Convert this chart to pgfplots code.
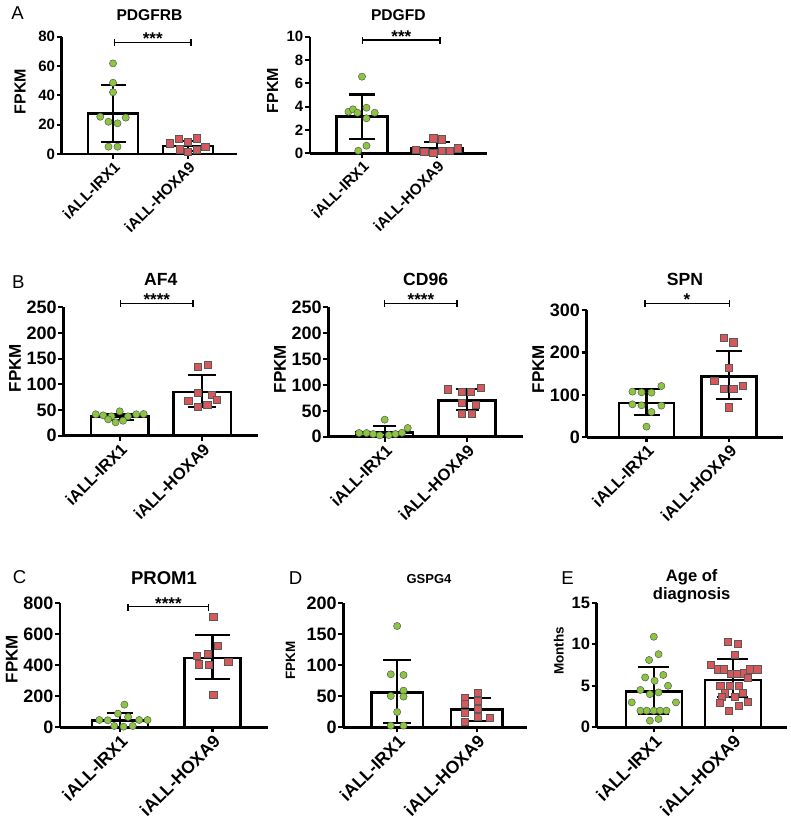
\documentclass[border=0pt]{standalone}
\usepackage{fontspec}
\setmainfont{Liberation Sans}
\usepackage{pgfplots}
\pgfplotsset{compat=1.18}
\definecolor{gpgreen}{RGB}{140,198,63}
\definecolor{gpred}{RGB}{214,88,90}
\newcommand\fs[1]{\fontsize{#1bp}{#1bp}\selectfont\bfseries}
\newcommand\sig[6]{%
 \draw[line width=1.4bp] (axis cs:#1,#4) -- (axis cs:#2,#4);
 \draw[line width=1.4bp] ([yshift=3bp]axis cs:#1,#4) -- ([yshift=-4bp]axis cs:#1,#4);
 \draw[line width=1.4bp] ([yshift=3bp]axis cs:#2,#4) -- ([yshift=-4bp]axis cs:#2,#4);
 \node[font=\fs{#6}, anchor=base, inner sep=0pt] at ([yshift=-2.4bp]axis cs:#3,#4) {#5};}
\pgfplotsset{
  gp/.style={scale only axis, ymin=0, clip=false,
    axis x line*=bottom, axis y line*=left,
    axis line style={line width=2.5bp,-},
    xtick={0,1}, xticklabels={iALL-IRX1,iALL-HOXA9},
    tick align=outside, major tick length=5bp,
    tick style={line width=2.2bp,black},
    /pgf/number format/assume math mode=true,
    x tick label style={rotate=45, anchor=north east, inner sep=1bp},
    y tick label style={inner sep=1.5bp},
    ylabel style={anchor=center},
    title style={anchor=base, inner sep=0pt},
    minor tick num=0},
  gpbar/.style={ybar, fill=white, draw=black, line width=2.5bp, bar width=#1},
  gperr/.style={draw=none, forget plot, error bars/.cd, y dir=both, y explicit,
     error bar style={draw=black, line width=2.2bp},
     error mark options={rotate=90, draw=black, line width=2.2bp, mark size=#1}},
  gpc/.style={only marks, mark=*, mark size=3.6bp, mark options={fill=gpgreen, draw=black!65, line width=0.5bp}},
  gps/.style={only marks, mark=square*, mark size=3.6bp, mark options={fill=gpred, draw=black!65, line width=0.5bp}},
}
\begin{document}
\begin{tikzpicture}
\useasboundingbox (0,0) rectangle (791bp,819bp);
% panel letters
\node[font=\fontsize{18.6bp}{19bp}\selectfont] at (17.5bp,805.7bp) {A};
\node[font=\fontsize{18.6bp}{19bp}\selectfont] at (18.3bp,537.3bp) {B};
\node[font=\fontsize{18.6bp}{19bp}\selectfont] at (19.7bp,242.3bp) {C};
\node[font=\fontsize{18.6bp}{19bp}\selectfont] at (295.7bp,240.7bp) {D};
\node[font=\fontsize{18.6bp}{19bp}\selectfont] at (567.5bp,240.7bp) {E};

% ---------- A: PDGFRB
\begin{axis}[gp, at={(61.7bp,665bp)}, anchor=south west, width=175.6bp, height=117.3bp,
  xmin=-0.684, xmax=1.657, ymax=80, ytick={0,20,40,60,80},
  y tick label style={font=\fs{15}}, x tick label style={font=\fs{15.3}},
  ylabel={FPKM}, ylabel style={font=\fs{16}, at={([xshift=-41.7bp,yshift=3.6bp]axis description cs:0,0.5)}},
  title={PDGFRB}, title style={font=\fs{15.6}, yshift=10bp}]
\addplot[gpbar=50bp] coordinates {(0,27.7) (1,5.6)};
\addplot[gperr=12.5bp] coordinates {(0,27.7) +- (0,19.3) (1,5.6) +- (0,3.4)};
\addplot[gpc] coordinates {(0,61.8) (0,48.6) (0,42.1) (-0.17,25.4) (-0.06,22.0) (0.06,20.9) (0.17,24.8) (-0.06,5.0) (0.06,5.0)};
\addplot[gps] coordinates {(0.76,7.3) (0.88,10.2) (1,8.4) (1.12,10.7) (1.23,5.0) (0.89,3.2) (1,1.6) (1.12,2.7)};
\sig{0.02}{1.04}{0.53}{76.1}{***}{17}
\end{axis}

% ---------- A: PDGFD
\begin{axis}[gp, at={(310bp,665.7bp)}, anchor=south west, width=176.7bp, height=116.6bp,
  xmin=-0.693, xmax=1.663, ymax=10, ytick={0,2,4,6,8,10},
  y tick label style={font=\fs{15}}, x tick label style={font=\fs{15.3}},
  ylabel={FPKM}, ylabel style={font=\fs{16}, at={([xshift=-37.5bp,yshift=4.3bp]axis description cs:0,0.5)}},
  title={PDGFD}, title style={font=\fs{15.6}, yshift=10bp}]
\addplot[gpbar=51bp] coordinates {(0,3.15) (1,0.45)};
\addplot[gperr=13bp] coordinates {(0,3.15) +- (0,1.9) (1,0.45) += (0,0.5) -= (0,0.45)};
\addplot[gpc] coordinates {(0,6.57) (-0.18,3.57) (-0.12,3.77) (-0.06,3.48) (0.06,3.91) (0.17,3.48) (0.06,3.0) (0.06,0.65) (-0.05,0.22)};
\addplot[gps] coordinates {(0.72,0.28) (0.83,0.14) (0.95,1.29) (1.06,1.2) (0.95,0.05) (1.06,0.2) (1.17,0.22) (1.28,0.43)};
\sig{0.01}{1.04}{0.525}{9.7}{***}{17}
\end{axis}

% ---------- B: AF4
\begin{axis}[gp, at={(63.3bp,383.3bp)}, anchor=south west, width=195bp, height=128.4bp,
  xmin=-0.684, xmax=1.68, ymax=250, ytick={0,50,100,150,200,250},
  y tick label style={font=\fs{18}}, x tick label style={font=\fs{16.5}},
  ylabel={FPKM}, ylabel style={font=\fs{17}, at={([xshift=-48.3bp,yshift=3.2bp]axis description cs:0,0.5)}},
  title={AF4}, title style={font=\fs{17.6}, yshift=16.3bp}]
\addplot[gpbar=57.3bp] coordinates {(0,37) (1,85)};
\addplot[gperr=14bp] coordinates {(0,37) +- (0,6) (1,85) += (0,33.2) -= (0,29.8)};
\addplot[gpc] coordinates {(-0.29,41.6) (-0.2,39.6) (-0.1,37.7) (0,47.4) (0.1,37.7) (0.2,41.6) (0.29,42.2) (-0.14,31.8) (-0.05,26.0) (0.04,29.2)};
\addplot[gps] coordinates {(0.95,134.4) (1.07,137.7) (0.95,83.8) (1.12,79.9) (0.83,68.2) (1.18,69.5) (0.95,56.5) (1.06,61.0)};
\sig{0.01}{0.89}{0.45}{257.8}{****}{17}
\end{axis}

% ---------- B: CD96
\begin{axis}[gp, at={(328.3bp,382.3bp)}, anchor=south west, width=194.7bp, height=129.4bp,
  xmin=-0.685, xmax=1.68, ymax=250, ytick={0,50,100,150,200,250},
  y tick label style={font=\fs{18}}, x tick label style={font=\fs{16.5}},
  ylabel={FPKM}, ylabel style={font=\fs{17}, at={([xshift=-48.3bp,yshift=2.8bp]axis description cs:0,0.5)}},
  title={CD96}, title style={font=\fs{17.6}, yshift=16bp}]
\addplot[gpbar=57bp] coordinates {(0,8.4) (1,69.6)};
\addplot[gperr=11.5bp] coordinates {(0,8.4) += (0,12.2) -= (0,8.4) (1,69.6) += (0,23.2) -= (0,18.1)};
\addplot[gpc] coordinates {(0,32.9) (-0.31,7.1) (-0.22,7.1) (-0.14,5.2) (-0.06,2.6) (0.05,3.2) (0.13,5.2) (0.21,7.7) (0.28,16.8)};
\addplot[gps] coordinates {(0.77,91.5) (0.94,87.6) (1.05,86.3) (1.17,94.1) (0.94,65.7) (1.11,61.9) (0.94,43.8) (1.06,43.8)};
\sig{0}{0.88}{0.44}{257.7}{****}{17}
\end{axis}

% ---------- B: SPN
\begin{axis}[gp, at={(586.7bp,381.7bp)}, anchor=south west, width=196.6bp, height=127.3bp,
  xmin=-0.723, xmax=1.654, ymax=300, ytick={0,100,200,300},
  y tick label style={font=\fs{18}}, x tick label style={font=\fs{16.5}},
  ylabel={FPKM}, ylabel style={font=\fs{17}, at={([xshift=-48.4bp,yshift=4.7bp]axis description cs:0,0.5)}},
  title={SPN}, title style={font=\fs{17.6}, yshift=19bp}]
\addplot[gpbar=55bp] coordinates {(0,81) (1,143)};
\addplot[gperr=13bp] coordinates {(0,81) += (0,33.7) -= (0,28.3) (1,143) += (0,60.4) -= (0,53.5)};
\addplot[gpc] coordinates {(-0.17,107.6) (-0.06,106.0) (0.06,105.2) (0.18,120.9) (-0.17,77.7) (-0.06,75.4) (0.18,74.6) (0.06,59.7) (0,25.1)};
\addplot[gps] coordinates {(0.93,234.8) (1.05,223.8) (0.99,164.1) (0.82,132.7) (0.93,113.9) (1.05,113.9) (1.16,120.9) (0.99,70.7)};
\sig{-0.02}{1.0}{0.49}{315.7}{*}{17}
\end{axis}

% ---------- C: PROM1
\begin{axis}[gp, at={(60bp,91.7bp)}, anchor=south west, width=208bp, height=124bp,
  xmin=-0.645, xmax=1.6, ymax=800, ytick={0,200,400,600,800},
  y tick label style={font=\fs{18}}, x tick label style={font=\fs{17.5}},
  ylabel={FPKM}, ylabel style={font=\fs{17}, at={([xshift=-48.3bp,yshift=6.3bp]axis description cs:0,0.5)}},
  title={PROM1}, title style={font=\fs{18.5}, yshift=13.3bp}]
\addplot[gpbar=56bp] coordinates {(0,43) (1,447.3)};
\addplot[gperr=13bp] coordinates {(0,43) += (0,51.6) -= (0,43)};
\addplot[gperr=17.5bp] coordinates {(1,447.3) += (0,146.2) -= (0,135.5)};
\addplot[gpc] coordinates {(0.05,146.2) (-0.22,47.3) (-0.13,45.2) (-0.02,88.2) (0.09,66.7) (0.21,47.3) (0.3,47.3) (-0.06,8.6) (0.04,4.3) (0.14,8.6)};
\addplot[gps] coordinates {(1.01,714) (0.83,462.4) (0.95,473.1) (1.06,524.7) (0.85,406.4) (0.96,402.1) (1.17,421.5) (1.01,208.6)};
\sig{0.09}{0.96}{0.525}{778.5}{****}{17}
\end{axis}

% ---------- D: GSPG4
\begin{axis}[gp, at={(343.3bp,91.7bp)}, anchor=south west, width=183.4bp, height=124bp,
  xmin=-0.676, xmax=1.626, ymax=200, ytick={0,50,100,150,200},
  y tick label style={font=\fs{18}}, x tick label style={font=\fs{17.5}},
  ylabel={FPKM}, ylabel style={font=\fs{13.5}, at={([xshift=-52.8bp,yshift=4.5bp]axis description cs:0,0.5)}},
  title={GSPG4}, title style={font=\fs{13}, yshift=14bp, xshift=-6bp}]
\addplot[gpbar=51.5bp] coordinates {(0,55.9) (1,29)};
\addplot[gperr=14bp] coordinates {(0,55.9) += (0,52.7) -= (0,48.4) (1,29) +- (0,18.3)};
\addplot[gpc] coordinates {(0,163.4) (-0.08,85.5) (0.08,84.4) (-0.08,50.5) (0.08,59.1) (0.08,49.5) (0,24.7) (-0.08,2.7) (0.08,2.7)};
\addplot[gps] coordinates {(1.01,55.9) (0.85,46.8) (1.01,42.5) (0.85,37.6) (1.01,29.6) (0.85,23.7) (1.01,17.2) (1.16,15.6) (0.85,8.6)};
\end{axis}

% ---------- E: Age of diagnosis
\begin{axis}[gp, at={(596.7bp,91.7bp)}, anchor=south west, width=190bp, height=124.6bp,
  xmin=-0.723, xmax=1.682, ymax=15, ytick={0,5,10,15},
  y tick label style={font=\fs{16.5}}, x tick label style={font=\fs{17.5}},
  ylabel={Months}, ylabel style={font=\fs{13.5}, at={([xshift=-38bp,yshift=14.2bp]axis description cs:0,0.5)}},
  title={Age of\\diagnosis}, title style={font=\fontsize{16.6bp}{17.5bp}\selectfont\bfseries, align=center, anchor=south, yshift=-6bp}]
\addplot[gpbar=56bp] coordinates {(0,4.29) (1,5.7)};
\addplot[gperr=15.5bp] coordinates {(0,4.29) += (0,2.93) -= (0,2.69) (1,5.7) += (0,2.5) -= (0,2.1)};
\addplot[gpc] coordinates {(0,10.9) (0.06,8.8) (-0.06,8.1) (-0.11,6.0) (0.01,5.6) (0.12,6.3) (0.18,5.0) (-0.17,4.5) (-0.05,4.0) (0.06,4.2) (-0.28,3.0) (0.28,3.0) (-0.17,2.0) (-0.09,2.0) (0,2.0) (0.08,2.0) (0.16,2.0) (-0.05,0.8) (0.06,1.0)};
\addplot[gps] coordinates {(0.94,10.3) (1.06,10.1) (1.02,8.7) (0.72,7.5) (0.81,7.0) (0.89,7.0) (0.97,6.4) (1.05,6.4) (1.14,6.5) (1.22,7.0) (1.31,7.0) (1.19,6.0) (0.84,5.0) (0.96,5.0) (1.07,5.0) (0.9,4.1) (1.13,4.2) (0.86,3.7) (1.02,3.7) (0.83,3.0) (1.19,3.1) (1.07,2.6) (0.95,2.0)};
\end{axis}
\end{tikzpicture}
\end{document}
